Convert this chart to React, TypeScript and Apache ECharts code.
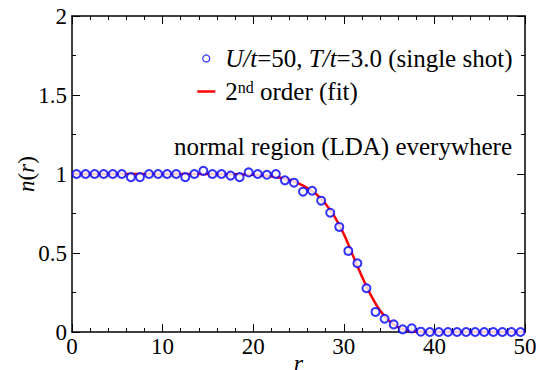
import React, { useEffect, useRef } from "react";
import * as echarts from "echarts";

const rPoints = [
  0.5, 1.5, 2.5, 3.5, 4.5, 5.5, 6.5, 7.5, 8.5, 9.5,
  10.5, 11.5, 12.5, 13.5, 14.5, 15.5, 16.5, 17.5, 18.5, 19.5,
  20.5, 21.5, 22.5, 23.5, 24.5, 25.5, 26.5, 27.5, 28.5, 29.5,
  30.5, 31.5, 32.5, 33.5, 34.5, 35.5, 36.5, 37.5, 38.5, 39.5,
  40.5, 41.5, 42.5, 43.5, 44.5, 45.5, 46.5, 47.5, 48.5, 49.5,
];
const nShot = [
  1.0, 1.0, 1.0, 1.0, 1.0, 1.0, 0.98, 0.98, 1.0, 1.0,
  1.0, 1.0, 0.98, 1.0, 1.02, 1.0, 1.0, 0.99, 0.98, 1.01,
  1.0, 0.995, 1.0, 0.96, 0.945, 0.888, 0.894, 0.831, 0.755, 0.665,
  0.513, 0.435, 0.277, 0.127, 0.084, 0.048, 0.017, 0.023, 0.002, 0.0,
  0.0, 0.0, 0.0, 0.0, 0.0, 0.0, 0.0, 0.0, 0.0, 0.0,
];
const rFit = [0, 5, 10, 15, 18, 20, 21, 22, 23, 24, 25, 26, 27, 28, 29, 30, 31, 32, 33, 34, 35, 36, 37, 38, 39, 40, 45, 50];
const nFit = [1.0, 1.0, 1.0, 1.0, 0.998, 0.995, 0.992, 0.986, 0.976, 0.962, 0.94, 0.91, 0.87, 0.81, 0.728, 0.62, 0.485, 0.352, 0.232, 0.136, 0.07, 0.03, 0.011, 0.003, 0.0, 0.0, 0.0, 0.0];
const yTicks = [0, 0.5, 1, 1.5, 2];

const FONT = "Liberation Serif";

function buildOption() {
  const grid = { left: 72, right: 15, top: 16, bottom: 38, outerBoundsMode: "none", containLabel: false };
  const axisCommon = {
    axisLine: { show: true, onZero: false, lineStyle: { color: "#000", width: 1.5 } },
    axisTick: { show: true, inside: true, length: 8, lineStyle: { color: "#000", width: 1 } },
    minorTick: { show: true, length: 4, lineStyle: { color: "#000", width: 1 } },
    splitLine: { show: false },
  };
  return {
    animation: false,
    backgroundColor: "#fff",
    grid,
    textStyle: { fontFamily: FONT },
    xAxis: [
      {
        type: "value", min: 0, max: 50, interval: 10, position: "bottom",
        ...axisCommon,
        minorTick: { ...axisCommon.minorTick, splitNumber: 5 },
        axisLabel: { color: "#000", fontSize: 23, fontFamily: FONT, margin: 3 },
        name: "r", nameLocation: "middle", nameGap: 24, nameMoveOverlap: false,
        nameTextStyle: { color: "#000", fontSize: 24, lineHeight: 14, fontFamily: FONT, fontStyle: "italic" },
      },
      {
        type: "value", min: 0, max: 50, interval: 10, position: "top",
        ...axisCommon,
        minorTick: { ...axisCommon.minorTick, splitNumber: 5 },
        axisLabel: { show: false },
      },
    ],
    yAxis: [
      {
        type: "value", min: yTicks[0], max: yTicks[yTicks.length - 1], interval: 0.5, position: "left",
        ...axisCommon,
        minorTick: { ...axisCommon.minorTick, splitNumber: 2 },
        axisLabel: { color: "#000", fontSize: 23, fontFamily: FONT, margin: 5 },
        name: "{i|n}({i|r})", nameLocation: "middle", nameGap: 34, nameRotate: 90, nameMoveOverlap: false,
        nameTextStyle: {
          color: "#000", fontSize: 23, fontFamily: FONT,
          rich: { i: { fontStyle: "italic", fontSize: 23, fontFamily: FONT, color: "#000" } },
        },
      },
      {
        type: "value", min: yTicks[0], max: yTicks[yTicks.length - 1], interval: 0.5, position: "right",
        ...axisCommon,
        minorTick: { ...axisCommon.minorTick, splitNumber: 2 },
        axisLabel: { show: false },
      },
    ],
    legend: {
      orient: "vertical",
      left: 191,
      top: 41,
      itemGap: 8,
      itemWidth: 18,
      itemHeight: 7,
      data: [
        { name: "shot", icon: "circle", itemStyle: { color: "#fff", borderColor: "#0000ff", borderWidth: 1.2 } },
        { name: "fit", itemStyle: { opacity: 0 }, lineStyle: { color: "#ff0000", width: 2.5 } },
      ],
      formatter: (name: string) =>
        name === "shot"
          ? "{i|U/t}=50, {i|T/t}=3.0 (single shot)"
          : "2{s|nd} order (fit)",
      textStyle: {
        color: "#000", fontSize: 25, fontFamily: FONT, padding: [0, 0, 0, 5],
        rich: {
          i: { fontStyle: "italic", fontSize: 25, fontFamily: FONT, color: "#000" },
          s: { fontSize: 16, fontFamily: FONT, color: "#000", verticalAlign: "top", padding: [0, 0, 9, 0] },
        },
      },
    },
    graphic: [
      {
        type: "text",
        right: 28,
        top: 134,
        style: { text: "normal region (LDA) everywhere", fill: "#000", fontSize: 25, fontFamily: FONT },
      },
    ],
    series: [
      {
        name: "fit",
        type: "line",
        data: rFit.map((r, i) => [r, nFit[i]]),
        smooth: 0.35,
        showSymbol: false,
        symbol: "none",
        lineStyle: { color: "#ff0000", width: 2.5 },
        itemStyle: { color: "#ff0000" },
        z: 2,
      },
      {
        name: "shot",
        type: "scatter",
        data: rPoints.map((r, i) => [r, nShot[i]]),
        symbol: "emptyCircle",
        symbolSize: 8,
        itemStyle: { color: "#0000ff", borderColor: "#0000ff", borderWidth: 1.2 },
        z: 3,
      },
    ],
  };
}

export default function App() {
  const ref = useRef<HTMLDivElement>(null);
  useEffect(() => {
    if (!ref.current) return;
    const chart = echarts.init(ref.current, null, { renderer: "svg" });
    chart.setOption(buildOption());
    return () => chart.dispose();
  }, []);
  return <div ref={ref} style={{ position: "fixed", left: 0, top: 0, width: 540, height: 370 }} />;
}
